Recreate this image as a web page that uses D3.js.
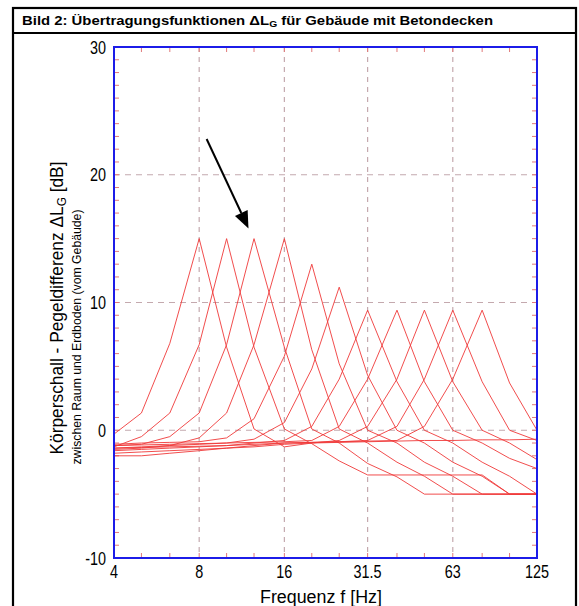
<!DOCTYPE html>
<html>
<head>
<meta charset="utf-8">
<script src="https://cdn.jsdelivr.net/npm/d3@7/dist/d3.min.js"></script>
<style>
	body { margin: 0; background: #fff; }
	text { font-family: "Liberation Sans", Arial, sans-serif; }
</style>
</head>
<body>
<div id="chart"></div>
<script>
// third-octave band centres (Hz)
let freqs = [4, 5, 6.3, 8, 10, 12.5, 16, 20, 25, 31.5, 40, 50, 63, 80, 100, 125];

// transfer functions, one per floor resonance (dB)
let curve8 = [-0.3, 1.35, 6.8, 15, 6.5, 0.1, -1.3, -1.0, -0.95, -0.9, -0.85, -0.8, -0.8, -0.75, -0.75, -0.7];
let curve10 = [-1.3, -0.5, 1.35, 6.7, 15, 6.5, 0.1, -1.05, -2.4, -3.5, -3.5, -3.5, -3.5, -3.5, -5.0, -5.0];
let curve12 = [-1.2, -1.1, -0.5, 1.35, 6.7, 15, 6.5, 0.1, -1.0, -2.6, -3.65, -5.0, -5.0, -5.0, -5.0, -5.0];
let curve16 = [-1.5, -1.4, -1.2, -0.6, 1.35, 6.7, 15, 6.3, 0.1, -1.0, -2.5, -3.6, -5.0, -5.0, -5.0, -5.0];
let curve20 = [-1.1, -1.0, -0.95, -0.9, -0.6, 0.9, 5.8, 13, 5.2, 0.0, -1.0, -2.5, -3.6, -5.0, -5.0, -5.0];
let curve25 = [-1.4, -1.3, -1.2, -1.1, -1.0, -0.7, 0.6, 4.8, 11.2, 4.3, 0.0, -1.0, -2.5, -3.6, -5.0, -5.0];
let curve31 = [-1.6, -1.5, -1.4, -1.3, -1.2, -1.0, -0.8, 0.3, 4.0, 9.4, 3.8, 0.0, -1.0, -2.5, -3.6, -5.0];
let curve40 = [-1.2, -1.15, -1.1, -1.05, -1.0, -0.95, -0.9, -0.8, 0.3, 4.0, 9.4, 3.8, 0.0, -1.0, -2.2, -3.0];
let curve50 = [-1.8, -1.7, -1.6, -1.5, -1.4, -1.3, -1.1, -1.0, -0.8, 0.3, 4.0, 9.4, 3.8, 0.0, -1.0, -2.3];
let curve63 = [-1.4, -1.35, -1.3, -1.25, -1.2, -1.1, -1.0, -0.95, -0.9, -0.8, 0.3, 4.0, 9.4, 3.8, 0.0, -0.8];
let curve80 = [-2.0, -2.0, -1.8, -1.6, -1.4, -1.2, -1.0, -0.95, -0.9, -0.85, -0.8, 0.3, 4.0, 9.4, 3.7, 0.0];

let curves = [curve8, curve10, curve12, curve16, curve20, curve25, curve31, curve40, curve50, curve63, curve80];

// axes
let xTicks = [4, 8, 16, 31.5, 63, 125];
let xTickLabels = ["4", "8", "16", "31.5", "63", "125"];
let yTicks = [-10, 0, 10, 20, 30];
let xGrid = [8, 16, 31.5, 63];
let yGrid = [0, 10, 20];
let yMinor = d3.range(-10, 31, 1);

// arrow annotation [Hz, dB]
let arrowFrom = [8.5, 22.8];
let arrowTo = [11.95, 15.8];

let W = 579, H = 606;
let plot = { left: 114, right: 537, top: 47, bottom: 558 };

let svg = d3.select('#chart').append('svg')
	.attr('width', W)
	.attr('height', H);

let x = d3.scaleLog()
	.domain([4, 125])
	.range([plot.left, plot.right]);

let y = d3.scaleLinear()
	.domain([-10, 30])
	.range([plot.bottom, plot.top]);

// outer frame + title bar
svg.append('rect')
	.attr('x', 13).attr('y', 8)
	.attr('width', 563).attr('height', H + 20)
	.attr('fill', 'none').attr('stroke', '#000').attr('stroke-width', 2.2);

svg.append('line')
	.attr('x1', 13).attr('x2', 576)
	.attr('y1', 33).attr('y2', 33)
	.attr('stroke', '#000').attr('stroke-width', 2);

let title = svg.append('text')
	.attr('x', 22).attr('y', 25)
	.attr('font-size', 13).attr('font-weight', 'bold')
	.attr('textLength', 471).attr('lengthAdjust', 'spacingAndGlyphs');
title.append('tspan').text('Bild 2: Übertragungsfunktionen ΔL');
title.append('tspan').attr('font-size', 9).attr('dy', 2).text('G');
title.append('tspan').attr('dy', -2).text(' für Gebäude mit Betondecken');

// grid
svg.append('g').selectAll('line')
	.data(xGrid)
	.enter().append('line')
	.attr('x1', d => x(d)).attr('x2', d => x(d))
	.attr('y1', plot.top).attr('y2', plot.bottom)
	.attr('stroke', '#c4a9ae').attr('stroke-width', 1.2)
	.attr('stroke-dasharray', '5,5');

svg.append('g').selectAll('line')
	.data(yGrid)
	.enter().append('line')
	.attr('x1', plot.left).attr('x2', plot.right)
	.attr('y1', d => y(d)).attr('y2', d => y(d))
	.attr('stroke', '#c4a9ae').attr('stroke-width', 1.2)
	.attr('stroke-dasharray', '6,5');

// minor ticks, inside on all four sides
let tickCol = '#e07a7a';
let ticks = svg.append('g').attr('stroke', tickCol).attr('stroke-width', 1);

ticks.selectAll('.yl').data(yMinor).enter().append('line').classed('yl', true)
	.attr('x1', plot.left).attr('x2', plot.left + 5)
	.attr('y1', d => y(d)).attr('y2', d => y(d));
ticks.selectAll('.yr').data(yMinor).enter().append('line').classed('yr', true)
	.attr('x1', plot.right - 5).attr('x2', plot.right)
	.attr('y1', d => y(d)).attr('y2', d => y(d));
ticks.selectAll('.xb').data(freqs).enter().append('line').classed('xb', true)
	.attr('x1', d => x(d)).attr('x2', d => x(d))
	.attr('y1', plot.bottom).attr('y2', plot.bottom - 5);
ticks.selectAll('.xt').data(freqs).enter().append('line').classed('xt', true)
	.attr('x1', d => x(d)).attr('x2', d => x(d))
	.attr('y1', plot.top).attr('y2', plot.top + 5);

// curves
let line = d3.line()
	.x((d, i) => x(freqs[i]))
	.y(d => y(d));

svg.append('g').selectAll('path')
	.data(curves)
	.enter().append('path')
	.attr('d', line)
	.attr('fill', 'none')
	.attr('stroke', '#f03a3a')
	.attr('stroke-opacity', 0.9)
	.attr('stroke-width', 1);

// plot border
svg.append('rect')
	.attr('x', plot.left).attr('y', plot.top)
	.attr('width', plot.right - plot.left).attr('height', plot.bottom - plot.top)
	.attr('fill', 'none').attr('stroke', '#1c1ce8').attr('stroke-width', 2);

// tick labels (narrow)
svg.append('g').selectAll('text')
	.data(xTicks)
	.enter().append('text')
	.attr('transform', d => 'translate(' + x(d) + ',578) scale(0.8,1)')
	.attr('text-anchor', 'middle')
	.attr('font-size', 18)
	.text((d, i) => xTickLabels[i]);

svg.append('g').selectAll('text')
	.data(yTicks)
	.enter().append('text')
	.attr('transform', d => 'translate(106,' + (y(d) + 6.5) + ') scale(0.8,1)')
	.attr('text-anchor', 'end')
	.attr('font-size', 18)
	.text(d => d);

// axis titles
svg.append('text')
	.attr('x', 321).attr('y', 603)
	.attr('text-anchor', 'middle')
	.attr('font-size', 18)
	.attr('textLength', 122).attr('lengthAdjust', 'spacingAndGlyphs')
	.text('Frequenz f  [Hz]');

let yt = svg.append('text')
	.attr('transform', 'translate(63,308) rotate(-90)')
	.attr('text-anchor', 'middle')
	.attr('font-size', 19)
	.attr('textLength', 293).attr('lengthAdjust', 'spacingAndGlyphs');
yt.append('tspan').text('Körperschall - Pegeldifferenz ΔL');
yt.append('tspan').attr('font-size', 13).attr('dy', 3).text('G');
yt.append('tspan').attr('dy', -3).text('  [dB]');

svg.append('text')
	.attr('transform', 'translate(81,337) rotate(-90)')
	.attr('text-anchor', 'middle')
	.attr('font-size', 12.5)
	.attr('textLength', 255).attr('lengthAdjust', 'spacingAndGlyphs')
	.text('zwischen Raum und Erdboden (vom Gebäude)');

// arrow
let ax0 = x(arrowFrom[0]), ay0 = y(arrowFrom[1]);
let ax1 = x(arrowTo[0]), ay1 = y(arrowTo[1]);
let ang = Math.atan2(ay1 - ay0, ax1 - ax0);
let headLen = 17, headW = 7;
let bx = ax1 - headLen * Math.cos(ang), by = ay1 - headLen * Math.sin(ang);

svg.append('line')
	.attr('x1', ax0).attr('y1', ay0)
	.attr('x2', bx).attr('y2', by)
	.attr('stroke', '#000').attr('stroke-width', 2);

svg.append('path')
	.attr('d', 'M' + ax1 + ',' + ay1 +
		'L' + (bx + headW * Math.sin(ang)) + ',' + (by - headW * Math.cos(ang)) +
		'L' + (bx - headW * Math.sin(ang)) + ',' + (by + headW * Math.cos(ang)) + 'Z')
	.attr('fill', '#000');
</script>
</body>
</html>
